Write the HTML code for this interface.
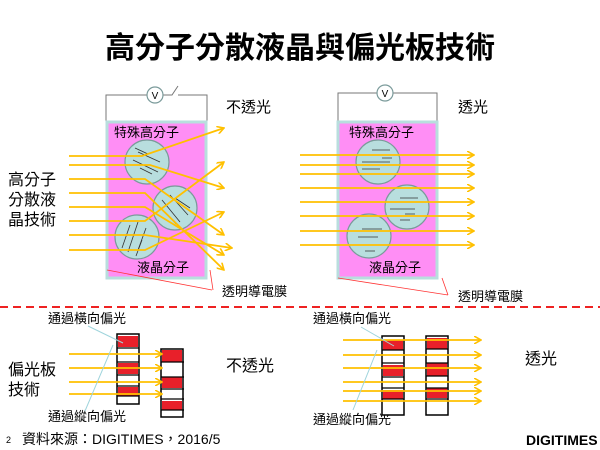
<!DOCTYPE html>
<html><head><meta charset="utf-8"><style>
body{margin:0;background:#fff}
svg{display:block}
text{font-family:"Liberation Sans","Noto Sans CJK TC",sans-serif;fill:#000}
</style></head><body>
<svg width="600" height="450" viewBox="0 0 600 450">
<defs>
<marker id="a" markerWidth="8" markerHeight="8" refX="7" refY="4" orient="auto" markerUnits="userSpaceOnUse"><path d="M0,0 L7,4 L0,8" fill="none" stroke="#ffc000" stroke-width="1.6"/></marker>
</defs>
<text x="300" y="58" font-size="30" text-anchor="middle" font-weight="bold">高分子分散液晶與偏光板技術</text>

<!-- Left PDLC -->
<path d="M106,122 V95 H147 M163,95 H172 L178,86 M178,95 H207 V122" fill="none" stroke="#777" stroke-width="1"/>
<circle cx="155" cy="95" r="8" fill="#fff" stroke="#7a9a9a" stroke-width="1.2"/>
<text x="155" y="99" font-size="10" text-anchor="middle">V</text>
<rect x="107" y="122" width="99" height="156" fill="#ff8ef5" stroke="#b8dede" stroke-width="3"/>
<g fill="#b8dede" stroke="#7a9a9a" stroke-width="1.2">
<circle cx="147" cy="162" r="22"/><circle cx="175" cy="208" r="22"/><circle cx="137" cy="237" r="22"/></g>
<g stroke="#333" stroke-width="0.8">
<path d="M138,152 L160,162 M133,160 L158,172 M140,168 L152,174 M135,148 L148,154"/>
<path d="M170,195 L188,215 M162,200 L180,222 M175,198 L190,208 M165,212 L176,224"/>
<path d="M130,225 L122,248 M138,222 L128,252 M146,228 L138,250 M142,240 L136,256"/>
</g>
<g fill="none" stroke="#ffc000" stroke-width="1.8" marker-end="url(#a)">
<path d="M69,156 H142 L224,128"/>
<path d="M69,165 H150 L224,188"/>
<path d="M69,179 H145 L224,235"/>
<path d="M69,193 H145 L224,270"/>
<path d="M69,207 H145 L224,255"/>
<path d="M69,221 H145 L224,162"/>
<path d="M69,235 H145 L232,248"/>
<path d="M69,250 H145 L224,212"/>
</g>
<text x="226" y="112" font-size="15">不透光</text>
<text x="114" y="137" font-size="13">特殊高分子</text>
<text x="137" y="272" font-size="13">液晶分子</text>
<text x="222" y="296" font-size="13">透明導電膜</text>
<text x="8" y="185" font-size="16">高分子</text>
<text x="8" y="205" font-size="16">分散液</text>
<text x="8" y="225" font-size="16">晶技術</text>
<path d="M107,270 L212,290 M210,270 L213,290" stroke="#f33" stroke-width="0.8" fill="none"/>

<!-- Right PDLC -->
<path d="M338,122 V93 H377 M393,93 H437 V122" fill="none" stroke="#777" stroke-width="1"/>
<circle cx="385" cy="93" r="8" fill="#fff" stroke="#7a9a9a" stroke-width="1.2"/>
<text x="385" y="97" font-size="10" text-anchor="middle">V</text>
<rect x="338" y="122" width="99" height="156" fill="#ff8ef5" stroke="#b8dede" stroke-width="3"/>
<g fill="#b8dede" stroke="#7a9a9a" stroke-width="1.2">
<circle cx="378" cy="162" r="22"/><circle cx="407" cy="207" r="22"/><circle cx="369" cy="236" r="22"/></g>
<g stroke="#333" stroke-width="0.8">
<path d="M372,150 H390 M362,162 H390 M362,169 H380 M382,158 H392"/>
<path d="M400,198 H418 M390,209 H415 M405,214 H415 M400,220 H410"/>
<path d="M362,229 H382 M358,237 H378 M355,245 H385 M365,251 H375"/>
</g>
<g fill="none" stroke="#ffc000" stroke-width="1.8" marker-end="url(#a)">
<path d="M300,155 H474"/><path d="M300,165 H474"/><path d="M300,174 H474"/><path d="M300,188 H474"/>
<path d="M300,202 H474"/><path d="M300,216 H474"/><path d="M300,231 H474"/><path d="M300,245 H474"/>
</g>
<text x="458" y="112" font-size="15">透光</text>
<text x="349" y="137" font-size="13">特殊高分子</text>
<text x="369" y="272" font-size="13">液晶分子</text>
<text x="458" y="301" font-size="13">透明導電膜</text>
<path d="M338,278 L448,295 M442,278 L448,295" stroke="#f33" stroke-width="0.8" fill="none"/>

<line x1="0" y1="307" x2="600" y2="307" stroke="#e22" stroke-width="2" stroke-dasharray="8,5"/>

<!-- Bottom left polarizer -->
<text x="48" y="323" font-size="13">通過橫向偏光</text>
<text x="48" y="421" font-size="13">通過縱向偏光</text>
<text x="8" y="375" font-size="16">偏光板</text>
<text x="8" y="395" font-size="16">技術</text>
<text x="226" y="371" font-size="16">不透光</text>
<rect x="117" y="334" width="22" height="70" fill="#fff" stroke="#000" stroke-width="1.5"/>
<g fill="#e8202a"><rect x="118" y="336" width="20" height="11"/><rect x="118" y="363" width="20" height="11"/><rect x="118" y="387" width="20" height="9"/></g>
<g stroke="#000" stroke-width="1.2"><path d="M117,348 H139 M117,362 H139 M117,375 H139 M117,386 H139 M117,396 H139"/></g>
<rect x="161" y="349" width="22" height="68" fill="#fff" stroke="#000" stroke-width="1.5"/>
<g fill="#e8202a"><rect x="162" y="350" width="20" height="12"/><rect x="162" y="377" width="20" height="11"/><rect x="162" y="401" width="20" height="9"/></g>
<g stroke="#000" stroke-width="1.2"><path d="M161,362 H184 M161,377 H184 M161,389 H184 M161,399 H184 M161,410 H184"/></g>
<g fill="none" stroke="#ffc000" stroke-width="1.8" marker-end="url(#a)">
<path d="M69,354 H162"/><path d="M69,368 H162"/><path d="M69,382 H162"/><path d="M69,394 H162"/></g>
<path d="M88,326 L123,343 M85,411 L113,345" stroke="#9fd4dc" stroke-width="1" fill="none"/>

<!-- Bottom right polarizer -->
<text x="313" y="323" font-size="13">通過橫向偏光</text>
<text x="313" y="424" font-size="13">通過縱向偏光</text>
<text x="525" y="364" font-size="16">透光</text>
<rect x="382" y="336" width="22" height="79" fill="#fff" stroke="#000" stroke-width="1.5"/>
<g fill="#e8202a"><rect x="383" y="340" width="20" height="10"/><rect x="383" y="365" width="20" height="11"/><rect x="383" y="390" width="20" height="9"/></g>
<g stroke="#000" stroke-width="1.2"><path d="M382,350 H404 M382,363 H404 M382,377 H404 M382,388 H404 M382,399 H404"/></g>
<rect x="426" y="336" width="22" height="79" fill="#fff" stroke="#000" stroke-width="1.5"/>
<g fill="#e8202a"><rect x="427" y="338" width="20" height="11"/><rect x="427" y="363" width="20" height="13"/><rect x="427" y="388" width="20" height="10"/></g>
<g stroke="#000" stroke-width="1.2"><path d="M426,349 H448 M426,363 H448 M426,376 H448 M426,388 H448 M426,399 H448"/></g>
<g fill="none" stroke="#ffc000" stroke-width="1.8" marker-end="url(#a)">
<path d="M343,340 H481"/><path d="M343,355 H481"/><path d="M343,368 H481"/><path d="M343,382 H481"/><path d="M343,391 H481"/><path d="M343,401 H481"/></g>
<path d="M361,327 L394,346 M353,410 L377,350" stroke="#9fd4dc" stroke-width="1" fill="none"/>

<text x="6" y="443" font-size="9">2</text>
<text x="22" y="444" font-size="14">資料來源：DIGITIMES，2016/5</text>
<text x="526" y="445" font-size="14" font-weight="bold" fill="#333">DIGITIMES</text>
</svg>
</body></html>
